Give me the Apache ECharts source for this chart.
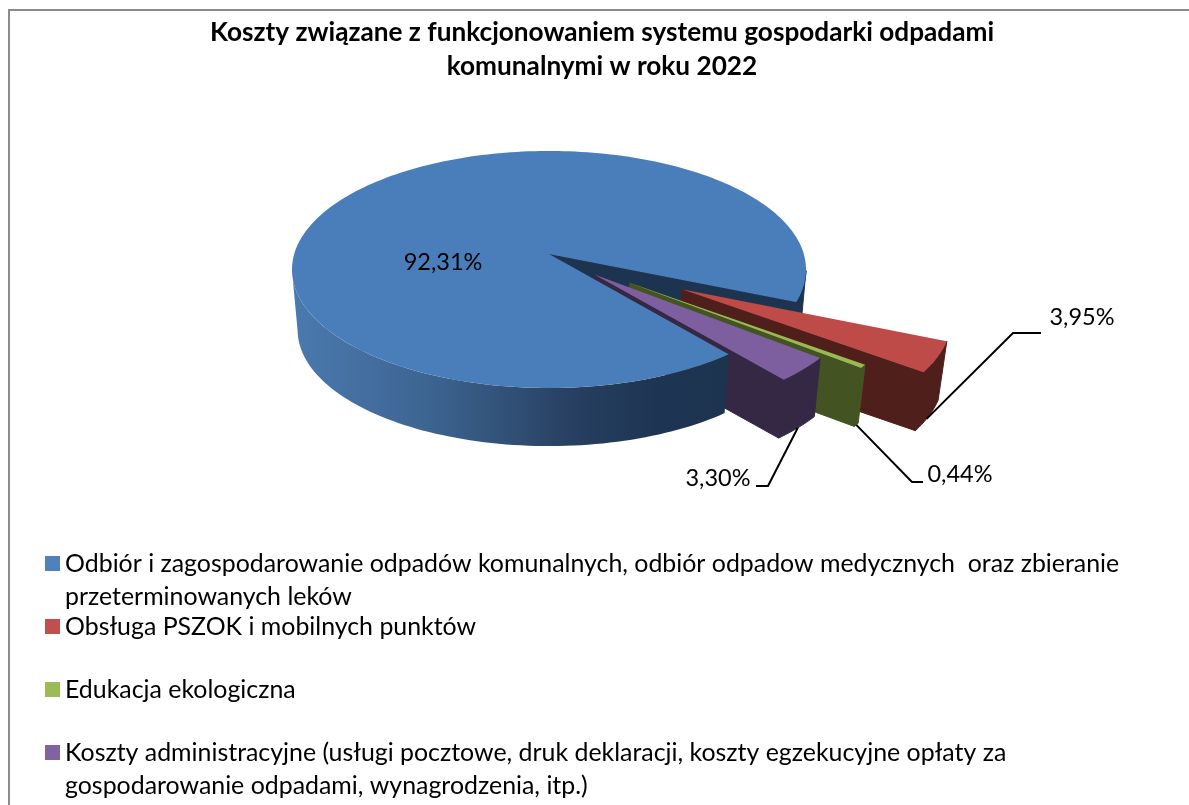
<!DOCTYPE html>
<html>
<head>
<meta charset="utf-8">
<style>
  html, body { margin: 0; padding: 0; background: #fff; }
  #chart { width: 1189px; height: 805px; }
</style>
<script src="https://cdn.jsdelivr.net/npm/echarts@6/dist/echarts.min.js"></script>
</head>
<body>
<div id="chart"></div>
<script>
const titleText = 'Koszty związane z funkcjonowaniem systemu gospodarki odpadami\nkomunalnymi w roku 2022'
const categories = [
  'Odbiór i zagospodarowanie odpadów komunalnych, odbiór odpadow medycznych  oraz zbieranie\nprzeterminowanych leków',
  'Obsługa PSZOK i mobilnych punktów',
  'Edukacja ekologiczna',
  'Koszty administracyjne (usługi pocztowe, druk deklaracji, koszty egzekucyjne opłaty za\ngospodarowanie odpadami, wynagrodzenia, itp.)'
]
const values = [92.31, 3.95, 0.44, 3.3]
const explode = [0, 0.58, 0.39, 0.245]
const topColors = ['#4a7ebb', '#be4b48', '#98b954', '#7d5fa0']
const legendColors = ['#4f81bd', '#c0504d', '#9bbb59', '#8064a2']
const wallColors = ['#1c3450', '#4f1f1c', '#435321', '#352845']

const FONT = 'Lato, Carlito, sans-serif'

// projection of the tilted disc: cy is the centre, the front looks bigger
const cx = 549, cy = 254, R = 254.8, K = 116.5, P = 0.1308, DEPTH = 61, SHRINK = 0.978
const START = 50.7

// elbow and text place of each label, index like values; at = where on the rim the line starts
const labelSpots = [
  { text: [443, 262] },
  { at: 0.6, elbow: [[1013, 333], [1041, 333]], text: [1082, 317] },
  { at: 0.5, elbow: [[912, 482], [923, 482]], text: [960, 474] },
  { at: 0.5, elbow: [[768, 486], [756, 486]], text: [718, 478] }
]

const rad = d => d * Math.PI / 180
const total = values.reduce((a, b) => a + b, 0)
const spans = values.map(v => v / total * 360)
const starts = spans.map((s, i) => START + spans.slice(0, i).reduce((a, b) => a + b, 0))

function project(u, v, low) {
  const w = 1 - P * v
  const s = low ? SHRINK : 1
  return [cx + R * u / w * s, cy + K * v / w * s + (low ? DEPTH : 0)]
}

function offsetOf(i) {
  const mid = rad(starts[i] + spans[i] / 2)
  return [explode[i] * Math.cos(mid), explode[i] * Math.sin(mid)]
}

function rimPoint(i, deg, low) {
  const o = offsetOf(i)
  return project(o[0] + Math.cos(rad(deg)), o[1] + Math.sin(rad(deg)), low)
}

function arc(i, a, b, low) {
  const pts = []
  const n = Math.max(2, Math.ceil(Math.abs(b - a) / 1.5))
  for (let k = 0; k <= n; k++) pts.push(rimPoint(i, a + (b - a) * k / n, low))
  return pts
}

function poly(points, fill, seam) {
  const style = { fill }
  // same colour stroke so two walls do not show a hairline between them
  if (seam) { style.stroke = fill; style.lineWidth = 1 }
  return { type: 'polygon', shape: { points }, style }
}

function topFace(i) {
  const o = offsetOf(i)
  return poly([project(o[0], o[1], false)].concat(arc(i, starts[i], starts[i] + spans[i], false)), topColors[i])
}

function endFace(i) {
  const o = offsetOf(i)
  const e = starts[i] + spans[i]
  return poly([project(o[0], o[1], false), rimPoint(i, e, false), rimPoint(i, e, true), project(o[0], o[1], true)], wallColors[i], true)
}

function rimWall(i, a, b, fill, seam) {
  return poly(arc(i, a, b, false).concat(arc(i, a, b, true).reverse()), fill, seam)
}

function labelParts(i) {
  const spot = labelSpots[i]
  const parts = []
  if (spot.elbow) {
    const from = rimPoint(i, starts[i] + spans[i] * spot.at, true)
    parts.push({
      type: 'polyline',
      shape: { points: [from].concat(spot.elbow) },
      style: { fill: null, stroke: '#000', lineWidth: 2 }
    })
  }
  parts.push({
    type: 'text',
    x: spot.text[0],
    y: spot.text[1],
    style: {
      text: values[i].toFixed(2).replace('.', ',') + '%',
      font: '23.5px ' + FONT,
      fill: '#000',
      align: 'center',
      verticalAlign: 'middle'
    }
  })
  return parts
}

// blue front wall fades from mid blue on the left to dark on the right
const frontFade = new echarts.graphic.LinearGradient(297, 0, 725, 0, [
  { offset: 0, color: '#4a79ae' },
  { offset: 0.3, color: '#3d6592' },
  { offset: 0.65, color: '#273f60' },
  { offset: 0.85, color: '#1d3552' },
  { offset: 1, color: '#1c3450' }
], true)

function blueBack() {
  const e = starts[0] + spans[0]
  return [rimWall(0, 368, e, wallColors[0], true), endFace(0)]
}

function blueFront() {
  return [rimWall(0, starts[0], 172, frontFade), topFace(0)].concat(labelParts(0))
}

function slicePart(i) {
  return [endFace(i), rimWall(i, starts[i], starts[i] + spans[i], wallColors[i], true), topFace(i)].concat(labelParts(i))
}

function makeSeries(i, parts) {
  return {
    type: 'custom',
    name: categories[i],
    coordinateSystem: 'none',
    silent: true,
    animation: false,
    itemStyle: { color: legendColors[i] },
    data: [values[i]],
    renderItem: () => ({ type: 'group', children: parts() })
  }
}

const chart = echarts.init(document.getElementById('chart'), null, { renderer: 'canvas' })
chart.setOption({
  animation: false,
  backgroundColor: '#fff',
  title: {
    text: titleText,
    left: 597,
    top: 11,
    textAlign: 'center',
    textStyle: { fontFamily: FONT, fontWeight: 'bold', fontSize: 26.2, lineHeight: 34, color: '#000' }
  },
  legend: {
    orient: 'vertical',
    left: 45,
    top: 514,
    padding: 0,
    itemWidth: 15,
    itemHeight: 15,
    itemGap: -36,
    icon: 'rect',
    selectedMode: false,
    data: categories,
    formatter: name => (name.indexOf('\n') >= 0 ? '\n' + name : '\n' + name + '\n '),
    textStyle: { fontFamily: FONT, fontSize: 24.9, lineHeight: 33, color: '#000' }
  },
  graphic: [{
    type: 'polyline',
    silent: true,
    shape: { points: [[9, 805], [9, 10], [1189, 10]] },
    style: { fill: null, stroke: '#8c8c8c', lineWidth: 2 }
  }],
  series: [
    makeSeries(0, blueBack),
    makeSeries(1, () => slicePart(1)),
    makeSeries(2, () => slicePart(2)),
    makeSeries(3, () => slicePart(3)),
    makeSeries(0, blueFront)
  ]
})
</script>
</body>
</html>
